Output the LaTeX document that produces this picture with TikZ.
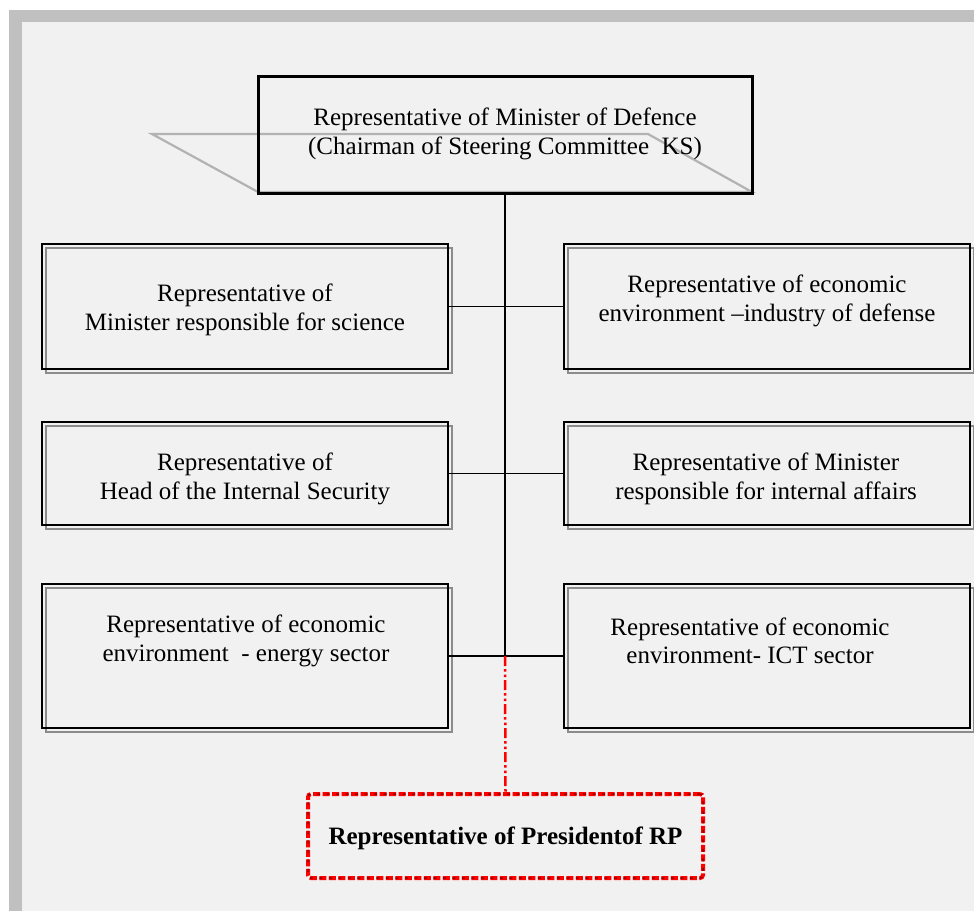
\documentclass[tikz,border=0pt]{standalone}
\usepackage{fontspec}
\setmainfont{Liberation Serif}
\usepackage{tikz}
\usetikzlibrary{calc,shapes,positioning}
\usetikzlibrary{arrows.meta}

\definecolor{pagebg}{HTML}{F1F1F1}
\definecolor{framegray}{HTML}{C0C0C0}

\begin{document}
\begin{tikzpicture}[x=1pt,y=-1pt]
      \tikzstyle{bnode} = [rectangle, draw=black, line width=1.3pt, inner sep=0pt, minimum width=406pt,
                           preaction={draw=black!45, line width=1.3pt, transform canvas={shift={(4pt,-4pt)}}}]
      \tikzstyle{tnode} = [align=center, inner sep=0pt, font=\fontsize{25}{28.5}\selectfont]
      \tikzstyle{pnode} = [rectangle, draw=red, line width=4pt, dash pattern=on 7pt off 2.5pt, rounded corners=3pt,
                           inner sep=0pt, minimum width=395pt, minimum height=84pt,
                           postaction={draw=red!60!black, line width=1.5pt, dash pattern=on 3pt off 6.5pt}]
      \tikzstyle{link} = [line width=1.3pt]

      % frame and page
      \useasboundingbox (0,0) rectangle (974,911);
      \fill[white] (0,0) rectangle (974,911);
      \fill[framegray] (9,10) rectangle (974,911);
      \fill[pagebg] (22,22) rectangle (974,911);

      % grey slanted plate behind the chairman
      \draw[black!30, line width=2.2pt] (152,134) -- (648,134) -- (752,192) -- (258,192) -- cycle;

      \node[rectangle, draw=black, line width=3pt, minimum width=494pt, minimum height=117pt] (mod) at (505,134.5) {};
      \node[tnode] (modt) at (505,134) {Representative of Minister of Defence\\(Chairman of Steering Committee\ \ KS)};

      \node[bnode, minimum height=125pt] (sci) at (245,306.5) {};
      \node[bnode, minimum height=125pt] (ind) at (767,306.5) {};
      \node[bnode, minimum height=103pt] (isa) at (245,473.5) {};
      \node[bnode, minimum height=103pt] (int) at (767,473.5) {};
      \node[bnode, minimum height=144pt] (ene) at (245,656) {};
      \node[bnode, minimum height=144pt] (ict) at (767,656) {};

      \node[tnode] (scit) at (245,310) {Representative of\\Minister responsible for science};
      \node[tnode] (indt) at (767,301) {Representative of economic\\environment –industry of defense};
      \node[tnode] (isat) at (245,479) {Representative of\\Head of the Internal Security};
      \node[tnode] (intt) at (766,479) {Representative of Minister\\responsible for internal affairs};
      \node[tnode] (enet) at (246,641) {Representative of economic\\environment\ \ - energy sector};
      \node[tnode] (ictt) at (750,641) {Representative of economic\\environment- ICT sector};

      \node[pnode] (pres) at (505.5,836) {};
      \node[tnode, font=\fontsize{25}{28.5}\selectfont\bfseries] (prest) at (505.5,838) {Representative of Presidentof RP};

      \coordinate (jn) at (mod.south |- ene.east);

      \draw[link] (mod.south) -- (jn);
      \draw[link] (sci.east) -- (ind.west);
      \draw[link] (isa.east) -- (int.west);
      \draw[link] (ene.east) -- (ict.west);
      \draw[red, line width=2.5pt, dash pattern=on 10pt off 3pt on 2.5pt off 3pt on 2.5pt off 3pt] (jn) -- (pres.north);
\end{tikzpicture}
\end{document}
